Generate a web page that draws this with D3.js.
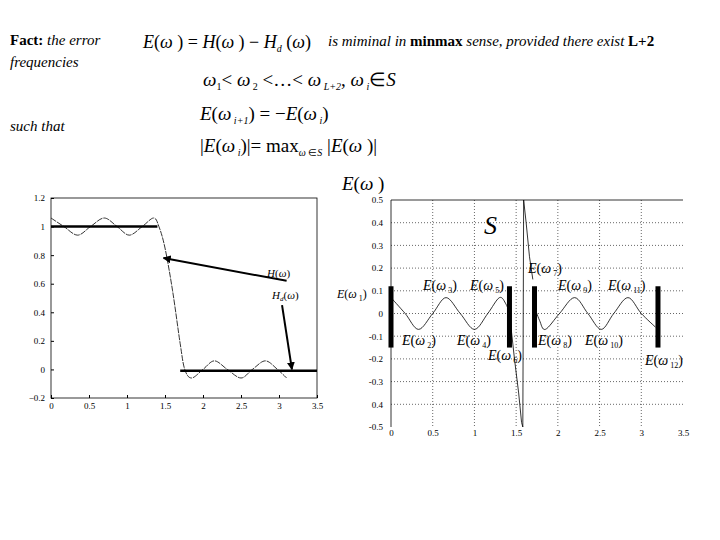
<!DOCTYPE html>
<html><head><meta charset="utf-8">
<script src="https://cdn.jsdelivr.net/npm/d3@7"></script>
<style>body{margin:0;background:#fff}text{font-family:"Liberation Serif",serif}</style>
</head><body><svg id="c" width="720" height="540"></svg>
<script>
// Left chart data
const leftXTicks=[0,0.5,1,1.5,2,2.5,3,3.5];
const leftYTicks=[-0.2,0,0.2,0.4,0.6,0.8,1,1.2];
const hX=[0,0.17,0.35,0.52,0.7,0.87,1.03,1.2,1.35,1.42,1.5,1.6,1.7,1.76,1.85,2.0,2.15,2.32,2.5,2.65,2.82,2.98,3.1];
const hY=[1.06,1.0,0.94,1.0,1.06,1.0,0.94,1.0,1.06,1.0,0.85,0.55,0.18,0.0,-0.06,0.0,0.06,0.0,-0.06,0.0,0.06,0.0,-0.06];
const hdPass=[[0,1],[1.4,1]];
const hdStop=[[1.7,-0.01],[3.5,-0.01]];
// Right chart data
const rightXTicks=[0,0.5,1,1.5,2,2.5,3,3.5];
const rightYTicks=[-0.5,-0.4,-0.3,-0.2,-0.1,0,0.1,0.2,0.3,0.4,0.5];
const rightYLabels=["-0.5","0.4","-0.3","-0.2","-0.1","0","0.1","0.2","0.3","0.4","0.5"];
const e1X=[0,0.17,0.33,0.5,0.66,0.83,1.0,1.16,1.3,1.38,1.42];
const e1Y=[0.07,0.0,-0.07,0.0,0.07,0.0,-0.07,0.0,0.07,0.04,0.0];
const e2X=[1.72,1.78,1.85,2.02,2.2,2.36,2.52,2.67,2.84,3.0,3.17];
const e2Y=[0.03,-0.03,-0.07,0.0,0.07,0.0,-0.07,0.0,0.07,0.0,-0.06];
const eTX=[1.42,1.48,1.53,1.565,1.58,1.59,1.62,1.66,1.7];
const eTY=[0.0,-0.2,-0.35,-0.48,-0.5,0.5,0.4,0.25,0.15];
const barX=[0,1.42,1.72,3.2];
const barLo=-0.15, barHi=0.12;
const eLabels=[["1",337,298],["3",423,290],["5",470,290],["7",528,273],["9",558,290],["11",608,290],["2",402,345],["4",457,345],["6",488,360],["8",538,345],["10",585,345],["12",645,365]];

const svg=d3.select("#c");
const T=(x,y,s,html,ital)=>svg.append("text").attr("x",x).attr("y",y).attr("font-size",s).attr("font-style",ital?"italic":null).html(html);
T(10,45,15,'<tspan font-weight="bold">Fact:</tspan><tspan font-style="italic"> the error</tspan>');
T(10,67,15,'frequencies',true);
T(10,131,15,'such that',true);
T(143,48,18,'<tspan font-style="italic">E</tspan>(<tspan font-style="italic">ω</tspan> ) = <tspan font-style="italic">H</tspan>(<tspan font-style="italic">ω</tspan> ) − <tspan font-style="italic">H</tspan><tspan font-size="10" dy="4" font-style="italic">d</tspan><tspan dy="-4"> (</tspan><tspan font-style="italic">ω</tspan>)');
T(328,46,15,'<tspan font-style="italic">is miminal in </tspan><tspan font-weight="bold">minmax</tspan><tspan font-style="italic"> sense, provided there exist </tspan><tspan font-weight="bold">L+2</tspan>');
T(203,86,19,'<tspan font-style="italic">ω</tspan><tspan font-size="10" dy="4">1</tspan><tspan dy="-4">&lt; </tspan><tspan font-style="italic">ω</tspan><tspan font-size="10" dy="4"> 2</tspan><tspan dy="-4"> &lt;…&lt; </tspan><tspan font-style="italic">ω</tspan><tspan font-size="10" dy="4" font-style="italic"> L+2</tspan><tspan dy="-4">,   </tspan><tspan font-style="italic">ω</tspan><tspan font-size="10" dy="4" font-style="italic"> i</tspan><tspan dy="-4">∈</tspan><tspan font-style="italic">S</tspan>');
T(200,120,19,'<tspan font-style="italic">E</tspan>(<tspan font-style="italic">ω</tspan><tspan font-size="10" dy="4" font-style="italic"> i+1</tspan><tspan dy="-4">) = −</tspan><tspan font-style="italic">E</tspan>(<tspan font-style="italic">ω</tspan><tspan font-size="10" dy="4" font-style="italic"> i</tspan><tspan dy="-4">)</tspan>');
T(200,152,19,'|<tspan font-style="italic">E</tspan>(<tspan font-style="italic">ω</tspan><tspan font-size="10" dy="4" font-style="italic"> i</tspan><tspan dy="-4">)|= max</tspan><tspan font-size="10" dy="4" font-style="italic">ω</tspan><tspan font-size="10"> ∈</tspan><tspan font-size="10" font-style="italic">S</tspan><tspan dy="-4"> |</tspan><tspan font-style="italic">E</tspan>(<tspan font-style="italic">ω</tspan> )|');
T(342,190,19,'<tspan font-style="italic">E</tspan>(<tspan font-style="italic">ω</tspan> )');

// Left chart
const xL=d3.scaleLinear().domain([0,3.5]).range([51,317]);
const yL=d3.scaleLinear().domain([-0.2,1.2]).range([398,198]);
const gL=svg.append("g");
gL.append("rect").attr("x",51).attr("y",198).attr("width",266).attr("height",200).attr("fill","none").attr("stroke","#000").attr("stroke-width",0.8);
gL.append("g").attr("transform","translate(0,398)").call(d3.axisBottom(xL).tickValues(leftXTicks).tickSize(-3).tickFormat(d3.format("")))
 .call(g=>{g.select(".domain").remove();g.selectAll("text").attr("font-size",9).attr("font-family","Liberation Sans").attr("dy",8);});
gL.append("g").attr("transform","translate(51,0)").call(d3.axisLeft(yL).tickValues(leftYTicks).tickSize(-3).tickFormat(d3.format("")))
 .call(g=>{g.select(".domain").remove();g.selectAll("text").attr("font-size",9).attr("font-family","Liberation Sans").attr("dx",-3);});
const lineL=d3.line().x(d=>xL(d[0])).y(d=>yL(d[1]));
gL.append("path").datum(hX.map((x,i)=>[x,hY[i]])).attr("d",lineL.curve(d3.curveCardinal)).attr("fill","none").attr("stroke","#000").attr("stroke-width",0.8).attr("stroke-dasharray","6,1");
lineL.curve(d3.curveLinear);
[hdPass,hdStop].forEach(s=>gL.append("path").datum(s).attr("d",lineL).attr("stroke","#000").attr("stroke-width",2.5));
const defs=svg.append("defs");
defs.append("marker").attr("id","ah").attr("viewBox","0 0 10 10").attr("refX",9).attr("refY",5).attr("markerWidth",4).attr("markerHeight",4).attr("orient","auto").append("path").attr("d","M0,0L10,5L0,10z");
gL.append("line").attr("x1",xL(3.1)).attr("y1",yL(0.62)).attr("x2",xL(1.48)).attr("y2",yL(0.78)).attr("stroke","#000").attr("stroke-width",2).attr("marker-end","url(#ah)");
gL.append("line").attr("x1",xL(3.04)).attr("y1",yL(0.45)).attr("x2",xL(3.17)).attr("y2",yL(0.0)).attr("stroke","#000").attr("stroke-width",2).attr("marker-end","url(#ah)");
T(267,277,11,'<tspan font-style="italic">H</tspan>(<tspan font-style="italic">ω</tspan>)');
T(272,299,11,'<tspan font-style="italic">H</tspan><tspan font-size="7" dy="2" font-style="italic">d</tspan><tspan dy="-2">(</tspan><tspan font-style="italic">ω</tspan>)');

// Right chart
const xR=d3.scaleLinear().domain([0,3.5]).range([391,683]);
const yR=d3.scaleLinear().domain([-0.5,0.5]).range([427,200]);
const gR=svg.append("g");
gR.selectAll(".gx").data(rightXTicks.slice(1,-1)).enter().append("line").attr("x1",d=>xR(d)).attr("x2",d=>xR(d)).attr("y1",200).attr("y2",427).attr("stroke","#000").attr("stroke-width",0.6).attr("stroke-dasharray","1,2");
gR.selectAll(".gy").data(rightYTicks.slice(1,-1)).enter().append("line").attr("y1",d=>yR(d)).attr("y2",d=>yR(d)).attr("x1",391).attr("x2",683).attr("stroke","#000").attr("stroke-width",0.6).attr("stroke-dasharray","1,2");
gR.append("line").attr("x1",391).attr("x2",683).attr("y1",200).attr("y2",200).attr("stroke","#000").attr("stroke-width",0.8);
gR.append("line").attr("x1",391).attr("x2",391).attr("y1",200).attr("y2",427).attr("stroke","#000").attr("stroke-width",0.8);
gR.append("g").attr("transform","translate(0,427)").call(d3.axisBottom(xR).tickValues(rightXTicks).tickSize(0).tickFormat(d3.format("")))
 .call(g=>{g.select(".domain").remove();g.selectAll("text").attr("font-size",9).attr("font-family","Liberation Sans").attr("dy",6);});
gR.append("g").attr("transform","translate(391,0)").call(d3.axisLeft(yR).tickValues(rightYTicks).tickSize(0).tickFormat((d,i)=>rightYLabels[i]))
 .call(g=>{g.select(".domain").remove();g.selectAll("text").attr("font-size",9).attr("font-family","Liberation Sans").attr("dx",-5);});
const lineR=d3.line().x(d=>xR(d[0])).y(d=>yR(d[1])).curve(d3.curveCardinal);
[[e1X,e1Y],[e2X,e2Y]].forEach(([xs,ys])=>gR.append("path").datum(xs.map((x,i)=>[x,ys[i]])).attr("d",lineR).attr("fill","none").attr("stroke","#000").attr("stroke-width",0.8));
gR.append("path").datum(eTX.map((x,i)=>[x,eTY[i]])).attr("d",lineR.curve(d3.curveLinear)).attr("fill","none").attr("stroke","#000").attr("stroke-width",0.8);
gR.selectAll(".bar").data(barX).enter().append("rect").attr("x",d=>xR(d)-2.5).attr("width",5).attr("y",yR(barHi)).attr("height",yR(barLo)-yR(barHi)).attr("fill","#000");
T(484,234,26,'S',true);
eLabels.forEach(([k,x,y])=>T(x,y,k==="1"?12:14,'<tspan font-style="italic">E</tspan>(<tspan font-style="italic">ω</tspan><tspan font-size="8" dy="3"> '+k+'</tspan><tspan dy="-3">)</tspan>'));
</script></body></html>
